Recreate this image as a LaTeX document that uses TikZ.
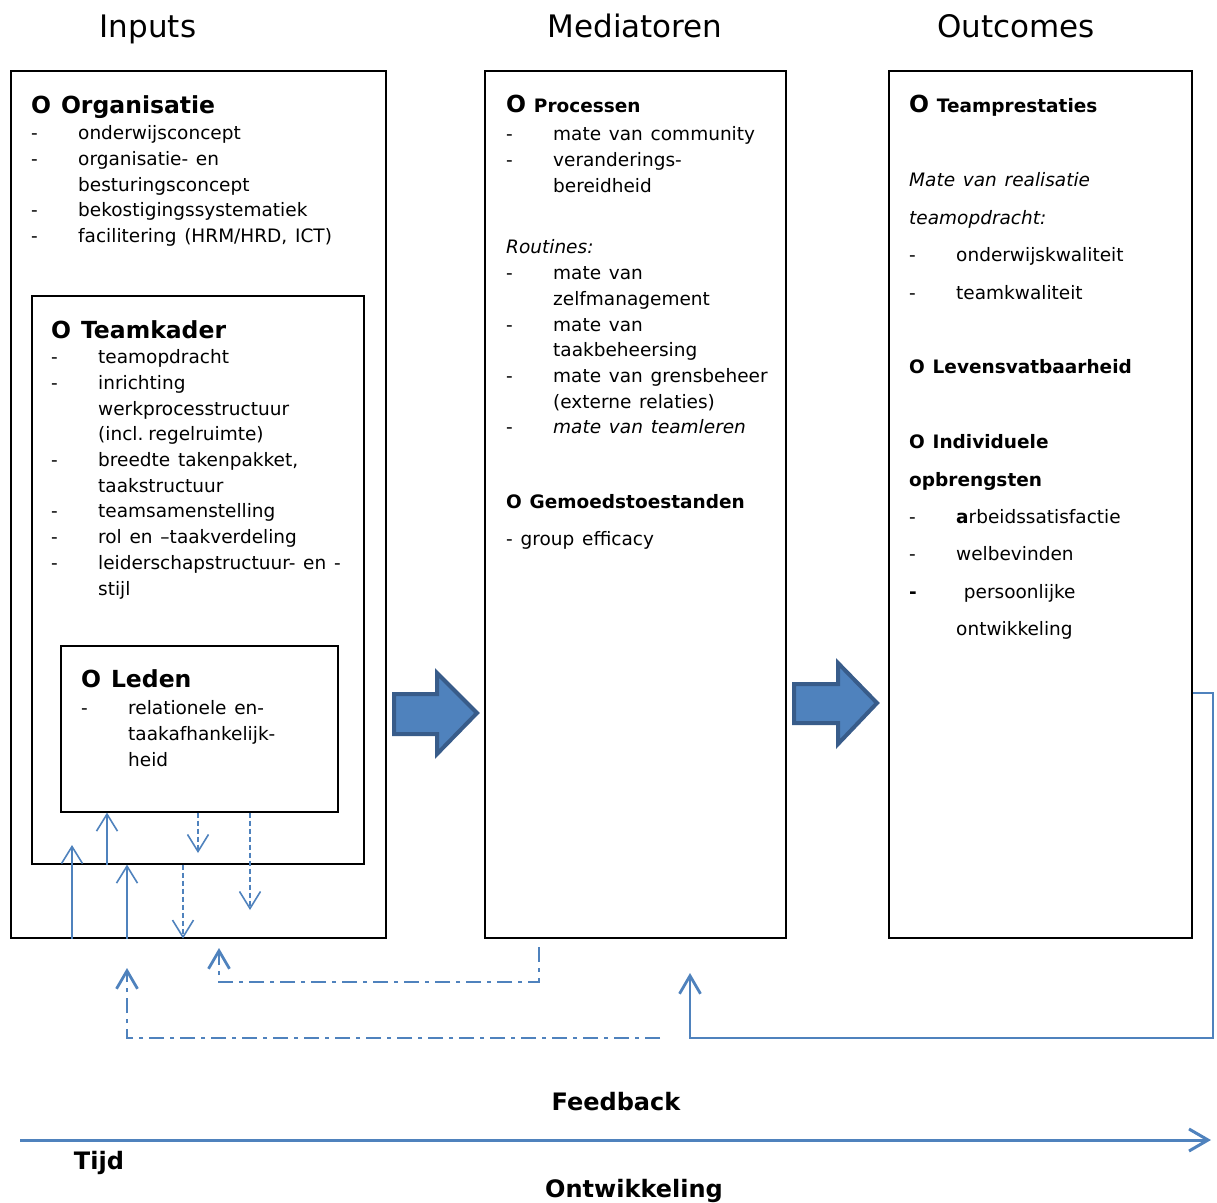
\documentclass[tikz,border=0pt]{standalone}
\usepackage{fontspec}
\setmainfont{DejaVu Sans}
\usetikzlibrary{positioning,arrows.meta}
\definecolor{fbblue}{rgb}{0.31,0.51,0.74}
\definecolor{fbdark}{rgb}{0.22,0.36,0.54}
\newcommand{\bodyfont}{\normalfont\fontsize{18.5}{25.7}\selectfont\spaceskip=0.42em plus 0.1em minus 0.05em\relax}
\newcommand{\headfont}{\normalfont\fontsize{23.5}{26}\selectfont\bfseries\spaceskip=0.42em plus 0.1em minus 0.05em\relax}
\newcommand{\itemline}[2][-]{\par\hangindent=47pt\hangafter=1\noindent\makebox[47pt][l]{#1}#2}

\begin{document}
\begin{tikzpicture}
[x=1pt,y=-1pt,
 box/.style={draw,line width=1.6pt,inner sep=0pt,anchor=north west},
 txt/.style={anchor=base west,inner sep=0pt,text width=#1,
   execute at begin node=\setlength{\parindent}{0pt}\raggedright\bodyfont},
 txt/.default=300pt,
 title/.style={anchor=base,inner sep=0pt,font=\fontsize{31}{36}\selectfont},
 lbl/.style={anchor=base,inner sep=0pt,font=\fontsize{24}{28}\selectfont\bfseries},
 uparr/.style={fbblue,line width=1.6pt,-{Straight Barb[length=17pt,width=21pt]}},
 dnarr/.style={uparr,dash pattern=on 5pt off 3pt},
 fbline/.style={fbblue,line width=2.8pt,-{Straight Barb[length=18pt,width=21pt]}},
 fbdash/.style={fbline,dash pattern=on 15pt off 6pt on 4pt off 6pt},
 bigarrow/.style={fill=fbblue,draw=fbdark,line width=4pt,line join=miter}]

\useasboundingbox (0,0) rectangle (1217,1202);

% column titles
\node[title] (tin) at (148,37) {Inputs};
\node[title] (tmed) at (635,37) {Mediatoren};
\node[title] (tout) at (1016,37) {Outcomes};

% boxes
\node[box,minimum width=375pt,minimum height=867pt] (org) at (10,70) {};
\node[box,minimum width=332pt,minimum height=568pt] (tk) at (31,295) {};
\node[box,minimum width=277pt,minimum height=166pt] (leden) at (60,645) {};
\node[box,minimum width=301pt,minimum height=867pt] (med) at (484,70) {};
\node[box,minimum width=303pt,minimum height=867pt] (out) at (888,70) {};

% inputs
\node[txt=350pt] (orgtxt) at (31,113) {{\headfont O Organisatie}\par
  \vspace{1pt}
  \itemline{onderwijsconcept}
  \itemline{organisatie- en\newline besturingsconcept}
  \itemline{bekostigingssystematiek}
  \itemline{facilitering (HRM/HRD, ICT)}\par};
\node[txt=312pt] (tktxt) at (51,338) {{\headfont O Teamkader}\par
  \itemline{teamopdracht}
  \itemline{inrichting\newline werkprocesstructuur\newline (incl. regelruimte)}
  \itemline{breedte takenpakket,\newline taakstructuur}
  \itemline{teamsamenstelling}
  \itemline{rol en –taakverdeling}
  \itemline{leiderschapstructuur- en -\newline stijl}\par};
\node[txt=250pt] (ledentxt) at (81,687) {{\headfont O Leden}\par
  \vspace{2pt}
  \itemline{relationele en-\newline taakafhankelijk-\newline heid}\par};

% mediatoren
\node[txt=280pt] (proctxt) at (506,112) {{\headfont O} {\bfseries Processen}\par
  \vspace{3pt}
  \itemline{mate van community}
  \itemline{veranderings-\newline bereidheid}\par};
\node[txt=280pt] (routtxt) at (506,253) {\textit{Routines:}\par
  \vspace{1pt}
  \itemline{mate van\newline zelfmanagement}
  \itemline{mate van\newline taakbeheersing}
  \itemline{mate van grensbeheer\newline (externe relaties)}
  \itemline{\itshape mate van teamleren}\par};
\node[txt=280pt] (gemtxt) at (506,508) {\textbf{O Gemoedstoestanden}\par
  \vspace{12pt}
  - group efficacy\par};

% outcomes
\node[txt=280pt] (outtxt) at (909,112) {\fontsize{18.5}{37.4}\selectfont
  {\headfont O} {\bfseries Teamprestaties}\par
  \mbox{}\par
  \textit{Mate van realisatie}\par
  \textit{teamopdracht:}
  \itemline{onderwijskwaliteit}
  \itemline{teamkwaliteit}\par
  \mbox{}\par
  \textbf{O Levensvatbaarheid}\par
  \mbox{}\par
  \textbf{O Individuele}\par
  \textbf{opbrengsten}
  \itemline{\textbf{a}rbeidssatisfactie}
  \itemline{welbevinden}
  \itemline[\textbf{-}]{\ persoonlijke\newline ontwikkeling}\par};

% big arrows
\draw[bigarrow] (394,694) -- (437,694) -- (437,673) -- (477,713) -- (437,754) -- (437,734) -- (394,734) -- cycle;
\draw[bigarrow] (794,684) -- (838,684) -- (838,663) -- (877,703) -- (838,744) -- (838,723) -- (794,723) -- cycle;

% arrows between the input levels
\coordinate (upA) at (72,845);
\coordinate (dnA) at (198,853);
\coordinate (dnB) at (250,910);
\draw[uparr] (org.south -| upA) -- (upA);
\draw[uparr] (tk.south -| 107,0) -- (leden.south -| 107,0);
\draw[uparr] (org.south -| 127,0) -- (tk.south -| 127,0);
\draw[dnarr] (leden.south -| dnA) -- (dnA);
\draw[dnarr] (leden.south -| dnB) -- (dnB);
\draw[dnarr] (tk.south -| 183,0) -- (org.south -| 183,0);

% feedback loops
\coordinate (fbAs) at (539,947);
\coordinate (fbA) at (219,948);
\coordinate (fbBs) at (660,1038);
\coordinate (fbB) at (127,968);
\coordinate (fbC) at (690,973);
\draw[fbdash] (fbAs) |- (fbA |- 0,982) -- (fbA);
\draw[fbdash] (fbBs) -| (fbB);
\draw[fbline] (out.east |- 0,693) -| (1213,1038) -| (fbC);

% time axis
\coordinate (tstart) at (20,1140);
\coordinate (tend) at (1211,1140);
\draw[fbblue,line width=3pt,-{Straight Barb[length=19pt,width=22pt]}] (tstart) -- (tend);

\node[lbl] (feedback) at (616,1110) {Feedback};
\node[lbl] (tijd) at (99,1169) {Tijd};
\node[lbl] (ontw) at (634,1197) {Ontwikkeling};
\end{tikzpicture}
\end{document}
